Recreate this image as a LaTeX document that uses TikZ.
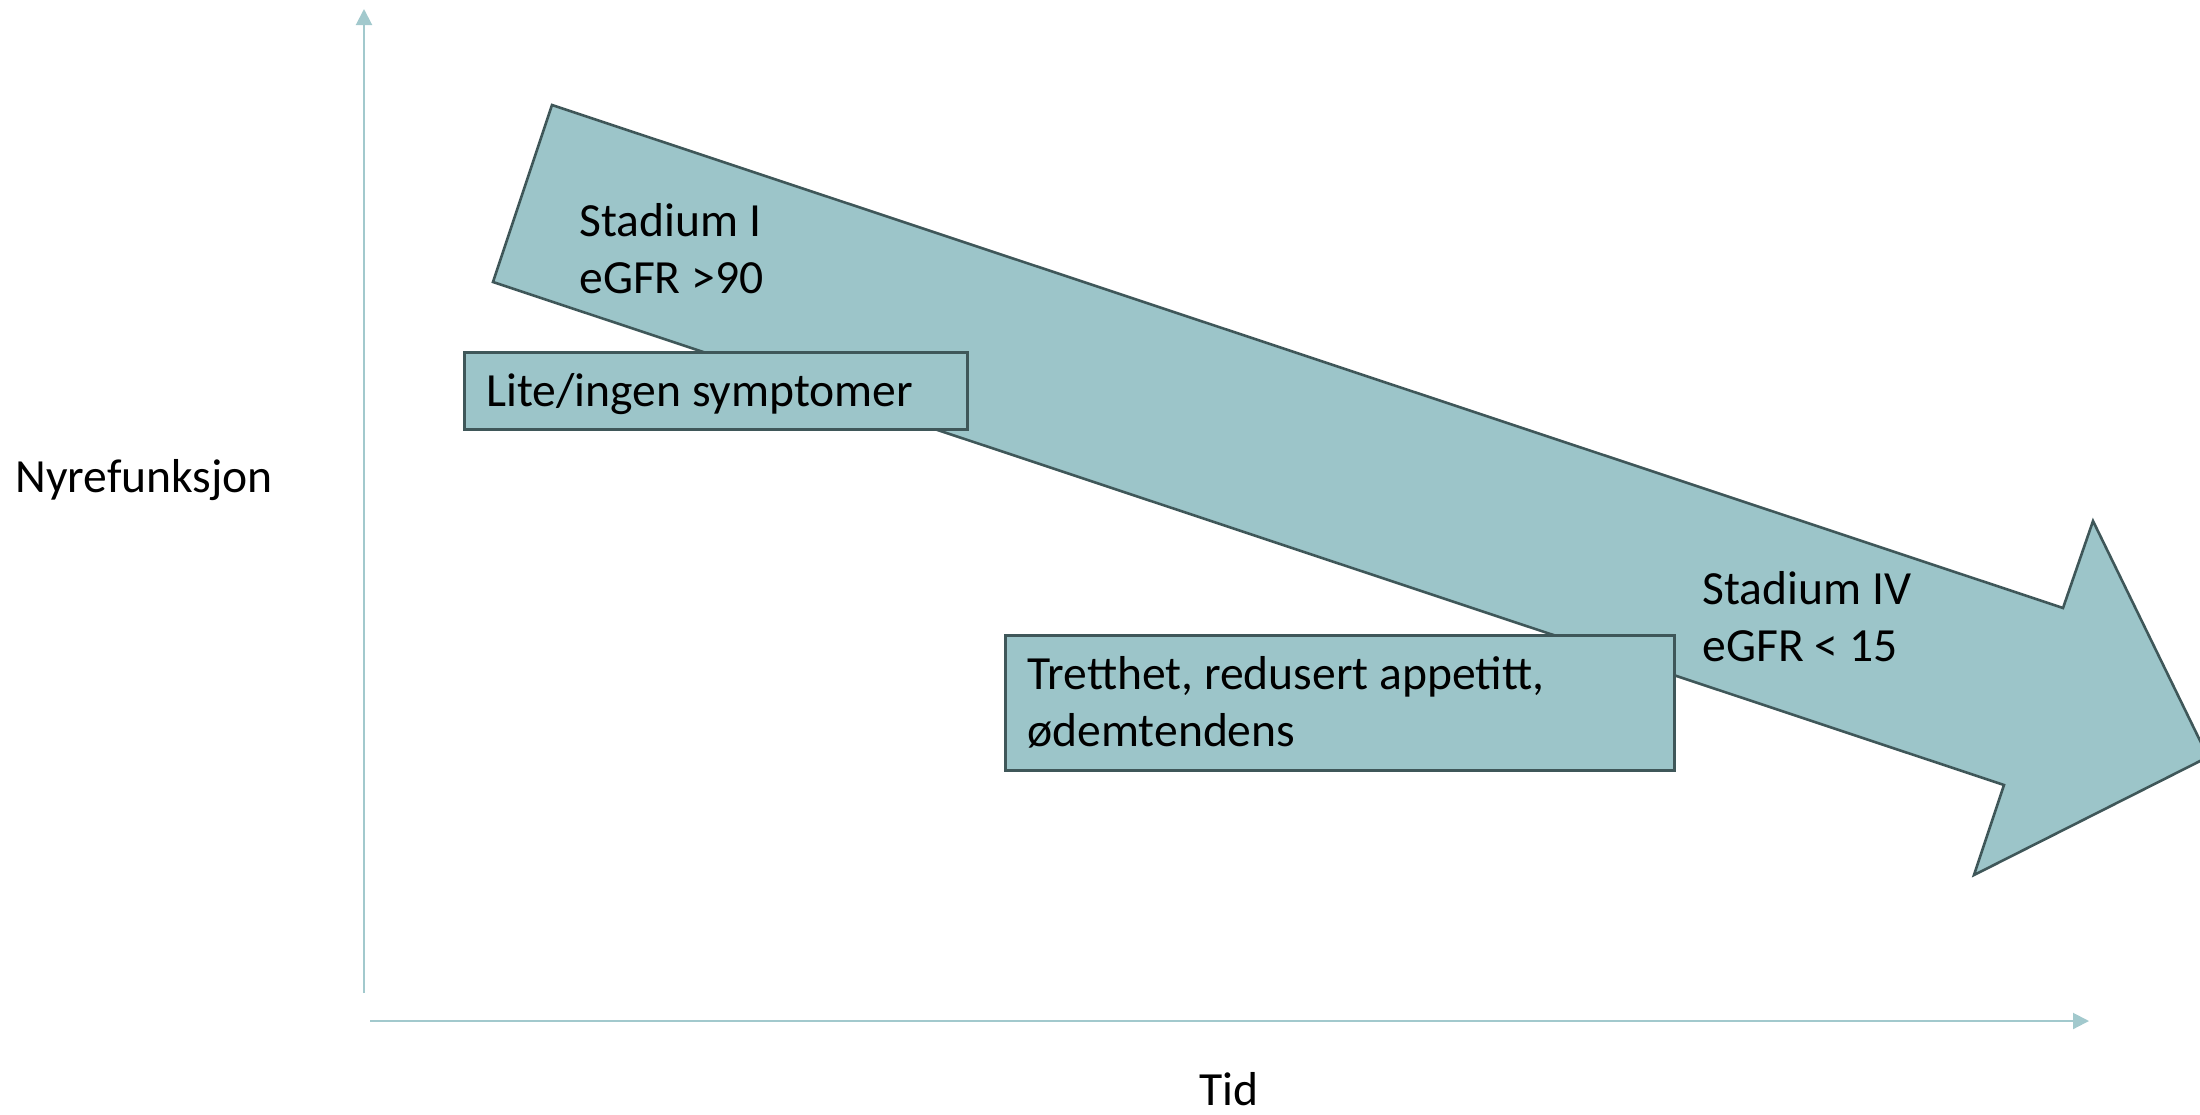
\documentclass[tikz,border=0pt]{standalone}
\usepackage{fontspec}
\setmainfont{Carlito}
\usetikzlibrary{arrows.meta}
\definecolor{tealfill}{HTML}{9CC5C9}
\definecolor{tealline}{HTML}{3F5759}
\definecolor{axiscol}{HTML}{A2C9CD}
\begin{document}
\begin{tikzpicture}[x=0.5pt,y=-0.5pt,
  lbl/.style={inner sep=0pt, anchor=base west, align=left, font=\fontsize{23.8}{28.3}\selectfont},
  boxshape/.style={draw=tealline, fill=tealfill, line width=1.3pt, inner sep=0pt, anchor=north west},
  axisline/.style={draw=axiscol, line width=1pt, -{Triangle[length=8pt,width=8pt]}}]
\useasboundingbox (0,0) rectangle (2200,1114);
\clip (0,0) rectangle (2200,1114);
% axes
\coordinate (yb) at (364,993);
\coordinate (yt) at (364,9);
\coordinate (xl) at (370,1021);
\coordinate (xr) at (2089,1021);
\draw[axisline] (yb) -- (yt);
\draw[axisline] (xl) -- (xr);
% big arrow
\coordinate (p1) at (552,105);
\coordinate (p2) at (2063,608);
\coordinate (p3) at (2093,521);
\coordinate (p4) at (2208,757);
\coordinate (p5) at (1974,875);
\coordinate (p6) at (2004,785);
\coordinate (p7) at (493,282);
\draw[draw=tealline, fill=tealfill, line width=1.3pt, line join=miter]
  (p1) -- (p2) -- (p3) -- (p4) -- (p5) -- (p6) -- (p7) -- cycle;
% boxes
\node[boxshape, minimum width=251.5pt, minimum height=38.5pt] (box1) at (463,351) {};
\node[boxshape, minimum width=334.5pt, minimum height=67.5pt] (box2) at (1004,634) {};
% texts (base anchor of a multi-line node is its last line)
\node[lbl] (st1) at (579,293) {Stadium I\\eGFR >90};
\node[lbl] (sym1) at (486,406) {Lite/ingen symptomer};
\node[lbl] (sym2) at (1027,746) {Tretthet, redusert appetitt,\\ødemtendens};
\node[lbl] (st4) at (1702,661) {Stadium IV\\eGFR < 15};
\node[lbl] (ylab) at (15,492) {Nyrefunksjon};
\node[lbl] (xlab) at (1199,1105) {Tid};
\end{tikzpicture}
\end{document}
